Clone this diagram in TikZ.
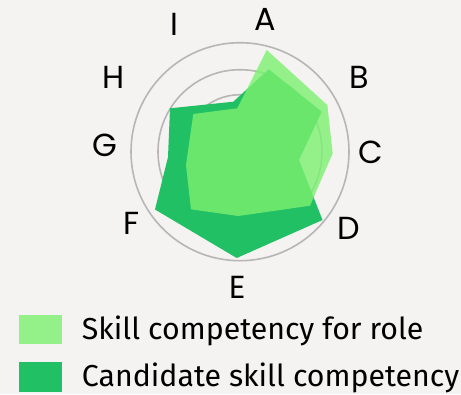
\documentclass[tikz,border=0pt]{standalone}
\usepackage{fontspec}
\setmainfont{Fira Sans}
\newfontfamily\axisfont{Poppins}
\usepackage{tikz}
\usetikzlibrary{backgrounds}

\definecolor{bgcol}{RGB}{244,243,241}
\definecolor{rolegreen}{RGB}{125,240,112}
\definecolor{candgreen}{RGB}{34,192,101}
\definecolor{ringgray}{RGB}{182,182,182}

\begin{document}
\begin{tikzpicture}[x=1bp,y=-1bp,every node/.style={anchor=center,inner sep=0pt,font=\axisfont\fontsize{32}{38}\selectfont}]
      \fill[bgcol] (0,0) rectangle (461,394);
      \useasboundingbox (0,0) rectangle (461,394);

      % rings
      \draw[ringgray,line width=1.6bp] (240,151.7) circle (57);
      \draw[ringgray,line width=1.6bp] (240,151.7) circle (82);
      \draw[ringgray,line width=1.6bp] (240,151.7) circle (109);

      % candidate
      \fill[candgreen] (268.7,69.3) -- (321.7,111.7) -- (299,160) -- (322.5,220) -- (236.7,258)
            -- (155,209.5) -- (168,157) -- (170,108.3) -- (233.3,101.7) -- cycle;
      % role
      \fill[rolegreen,opacity=0.8] (266.7,50) -- (327.3,105) -- (332.7,153.3) -- (310,205.7) -- (238.3,216)
            -- (191,209.3) -- (186,165) -- (193.3,114) -- (237.3,108.3) -- cycle;

      \node (labA) at (265.7, 19.7) {A};
      \node (labB) at (359.5, 77.7) {B};
      \node (labC) at (370.3,152.2) {C};
      \node (labD) at (349.2,228.7) {D};
      \node (labE) at (237.2,287.5) {E};
      \node (labF) at (132.0,223.8) {F};
      \node (labG) at (105.3,145.8) {G};
      \node (labH) at (113.7, 77.3) {H};
      \node (labI) at (174.5, 24.7) {I};

      % legend
      \fill[rolegreen,opacity=0.8] (19,315) rectangle (62,344.3);
      \fill[candgreen] (19,362) rectangle (62,391.7);
      \node[anchor=base west,font=\fontsize{30.4}{36}\selectfont] (keyrole) at (81.7,339) {Skill competency for role};
      \node[anchor=base west,font=\fontsize{30.4}{36}\selectfont] (keycand) at (81.7,386) {Candidate skill competency};

    \end{tikzpicture}
\end{document}
